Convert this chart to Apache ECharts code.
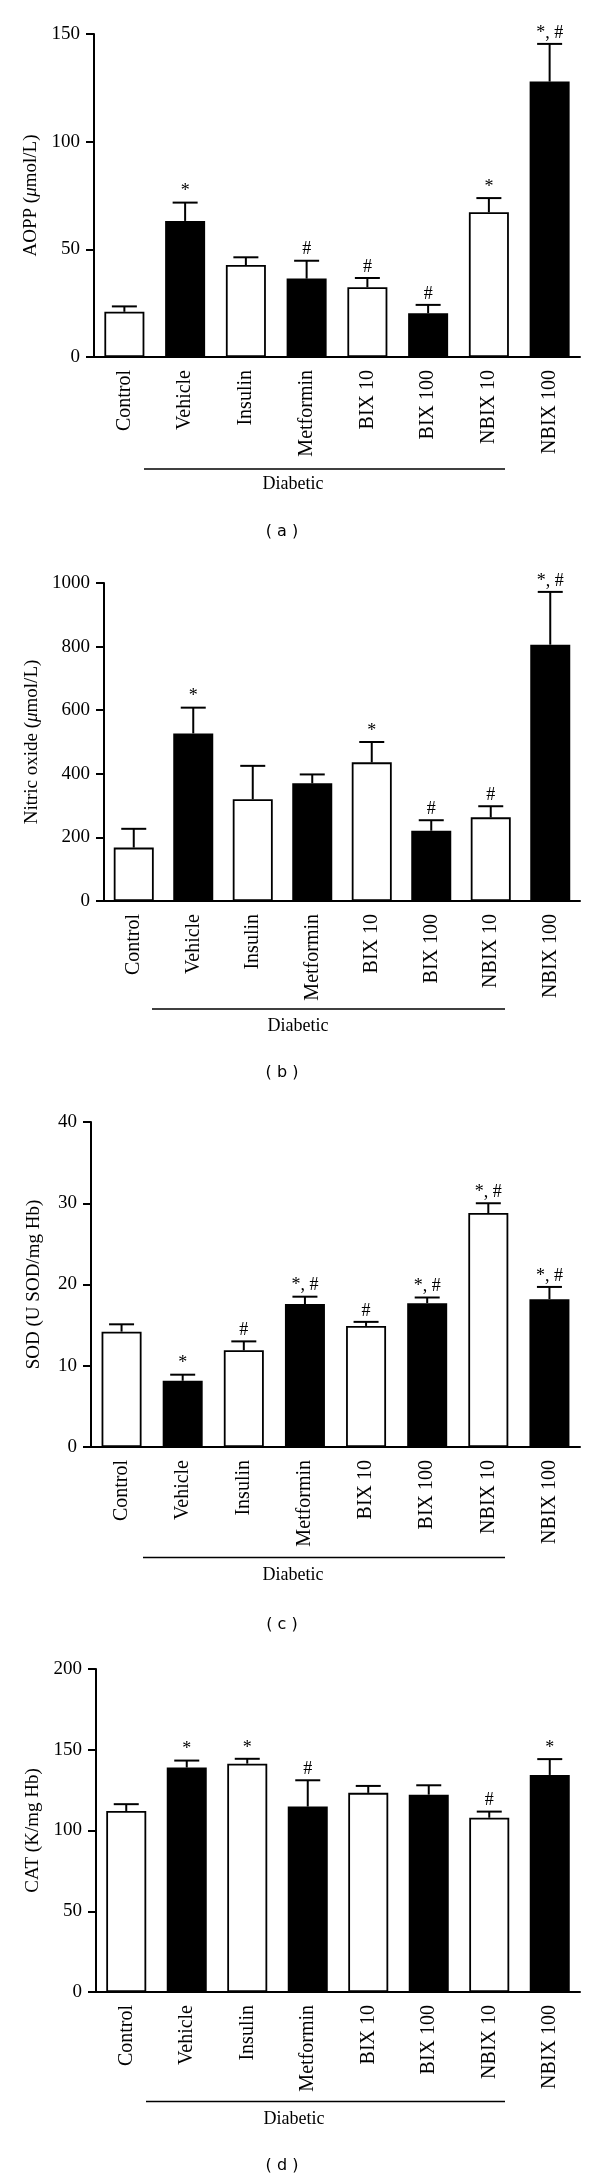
<!DOCTYPE html>
<html>
<head>
<meta charset="utf-8">
<script src="https://cdn.jsdelivr.net/npm/echarts@6/dist/echarts.min.js"></script>
<style>
html,body{margin:0;padding:0;background:#fff;}
#chart{width:600px;height:2182px;}
</style>
</head>
<body>
<div id="chart"></div>
<script>
// ---- data ----
const categories = ['Control', 'Vehicle', 'Insulin', 'Metformin', 'BIX 10', 'BIX 100', 'NBIX 10', 'NBIX 100'];

const aoppMean   = [21.0, 63.2, 42.7, 36.4, 32.4, 20.3, 67.2, 127.9];
const aoppErrTop = [23.5, 71.7, 46.3, 44.7, 36.7, 24.2, 73.8, 145.4];
const aoppSig    = ['', '*', '', '#', '#', '#', '*', '*, #'];

const noMean   = [168, 527, 320, 370, 436, 221, 263, 806];
const noErrTop = [227, 608, 425, 398, 500, 254, 298, 972];
const noSig    = ['', '*', '', '', '*', '#', '#', '*, #'];

const sodMean   = [14.2, 8.15, 11.9, 17.6, 14.9, 17.7, 28.8, 18.2];
const sodErrTop = [15.1, 8.9, 13.0, 18.5, 15.4, 18.4, 30.0, 19.7];
const sodSig    = ['', '*', '#', '*, #', '#', '*, #', '*, #', '*, #'];

const catMean   = [112.1, 139.0, 141.4, 114.8, 123.3, 122.2, 107.9, 134.4];
const catErrTop = [116.3, 143.3, 144.4, 131.1, 127.6, 128.0, 111.7, 144.2];
const catSig    = ['', '*', '*', '#', '', '', '#', '*'];

const yTitles = ['AOPP ({i|μ}mol/L)', 'Nitric oxide ({i|μ}mol/L)', 'SOD (U SOD/mg Hb)', 'CAT (K/mg Hb)'];
const yMax = [150, 1000, 40, 200];
const yStep = [50, 200, 10, 50];
const groupLabel = 'Diabetic';
const panelLabels = ['( a )', '( b )', '( c )', '( d )'];

// ---- layout ----
const SERIF = '"Liberation Serif", "DejaVu Serif", serif';
const SANS = '"DejaVu Sans", "Liberation Sans", sans-serif';
const grids = [
  {left: 94,  top: 34,   right: 20, height: 323},
  {left: 104, top: 583,  right: 20, height: 318},
  {left: 91,  top: 1122, right: 20, height: 325},
  {left: 96,  top: 1669, right: 20, height: 323}
];
const panels = [
  {mean: aoppMean, err: aoppErrTop, sig: aoppSig},
  {mean: noMean, err: noErrTop, sig: noSig},
  {mean: sodMean, err: sodErrTop, sig: sodSig},
  {mean: catMean, err: catErrTop, sig: catSig}
];
const deco = [
  {lineY: 469,    x1: 144, dx: 293, dy: 484,  cy: 532},
  {lineY: 1009,   x1: 152, dx: 298, dy: 1026, cy: 1073},
  {lineY: 1557.5, x1: 143, dx: 293, dy: 1575, cy: 1625},
  {lineY: 2101.5, x1: 146, dx: 294, dy: 2119, cy: 2166}
];

const xAxes = [], yAxes = [], series = [], graphics = [];
panels.forEach((p, k) => {
  xAxes.push({
    type: 'category', gridIndex: k, data: categories,
    axisLine: {lineStyle: {color: '#000', width: 2}},
    axisTick: {alignWithLabel: true, length: 8, lineStyle: {color: '#000', width: 2}},
    axisLabel: {rotate: 90, margin: 13, color: '#000', fontFamily: SERIF, fontSize: 20, interval: 0}
  });
  yAxes.push({
    type: 'value', gridIndex: k, min: 0, max: yMax[k], interval: yStep[k],
    name: yTitles[k], nameLocation: 'middle', nameGap: grids[k].left - 44,
    nameTextStyle: {color: '#000', fontFamily: SERIF, fontSize: 19,
      rich: {i: {fontStyle: 'italic', fontFamily: SERIF, fontSize: 19, color: '#000'}}},
    axisLine: {show: true, lineStyle: {color: '#000', width: 2}},
    axisTick: {show: true, length: 8, lineStyle: {color: '#000', width: 2}},
    axisLabel: {margin: 14, color: '#000', fontFamily: SERIF, fontSize: 19, formatter: v => String(v)},
    splitLine: {show: false}
  });
  series.push({
    type: 'bar', xAxisIndex: k, yAxisIndex: k, barWidth: 40, z: 2,
    data: p.mean.map((v, i) => ({
      value: v,
      itemStyle: {color: i % 2 === 1 ? '#000' : '#fff', borderColor: '#000', borderWidth: 1.8}
    }))
  });
  series.push({
    type: 'custom', xAxisIndex: k, yAxisIndex: k, z: 3,
    data: p.mean.map((v, i) => [i, v, p.err[i]]),
    renderItem: function (params, api) {
      const i = api.value(0);
      const top = api.coord([i, api.value(1)]);
      const err = api.coord([i, api.value(2)]);
      const half = 12.5;
      const children = [
        {type: 'line', shape: {x1: top[0], y1: top[1], x2: err[0], y2: err[1]}, style: {stroke: '#000', lineWidth: 2}},
        {type: 'line', shape: {x1: err[0] - half, y1: err[1], x2: err[0] + half, y2: err[1]}, style: {stroke: '#000', lineWidth: 2}}
      ];
      const s = p.sig[params.dataIndex];
      if (s) {
        children.push({type: 'text', x: err[0], y: err[1] - 2,
          style: {text: s, fill: '#000', font: '18px ' + SERIF, textAlign: 'center', textVerticalAlign: 'bottom'}});
      }
      return {type: 'group', children: children};
    }
  });
  const d = deco[k];
  graphics.push({type: 'line', shape: {x1: d.x1, y1: d.lineY, x2: 505, y2: d.lineY}, style: {stroke: '#000', lineWidth: 1.5}});
  graphics.push({type: 'text', x: d.dx, y: d.dy, style: {text: groupLabel, fill: '#000', font: '18px ' + SERIF, textAlign: 'center', textVerticalAlign: 'middle'}});
  graphics.push({type: 'text', x: 282, y: d.cy, style: {text: panelLabels[k], fill: '#000', font: '16px ' + SANS, textAlign: 'center', textVerticalAlign: 'middle'}});
});

const chart = echarts.init(document.getElementById('chart'), null, {renderer: 'canvas'});
chart.setOption({
  backgroundColor: '#fff',
  animation: false,
  grid: grids,
  xAxis: xAxes,
  yAxis: yAxes,
  series: series,
  graphic: graphics
});
</script>
</body>
</html>
